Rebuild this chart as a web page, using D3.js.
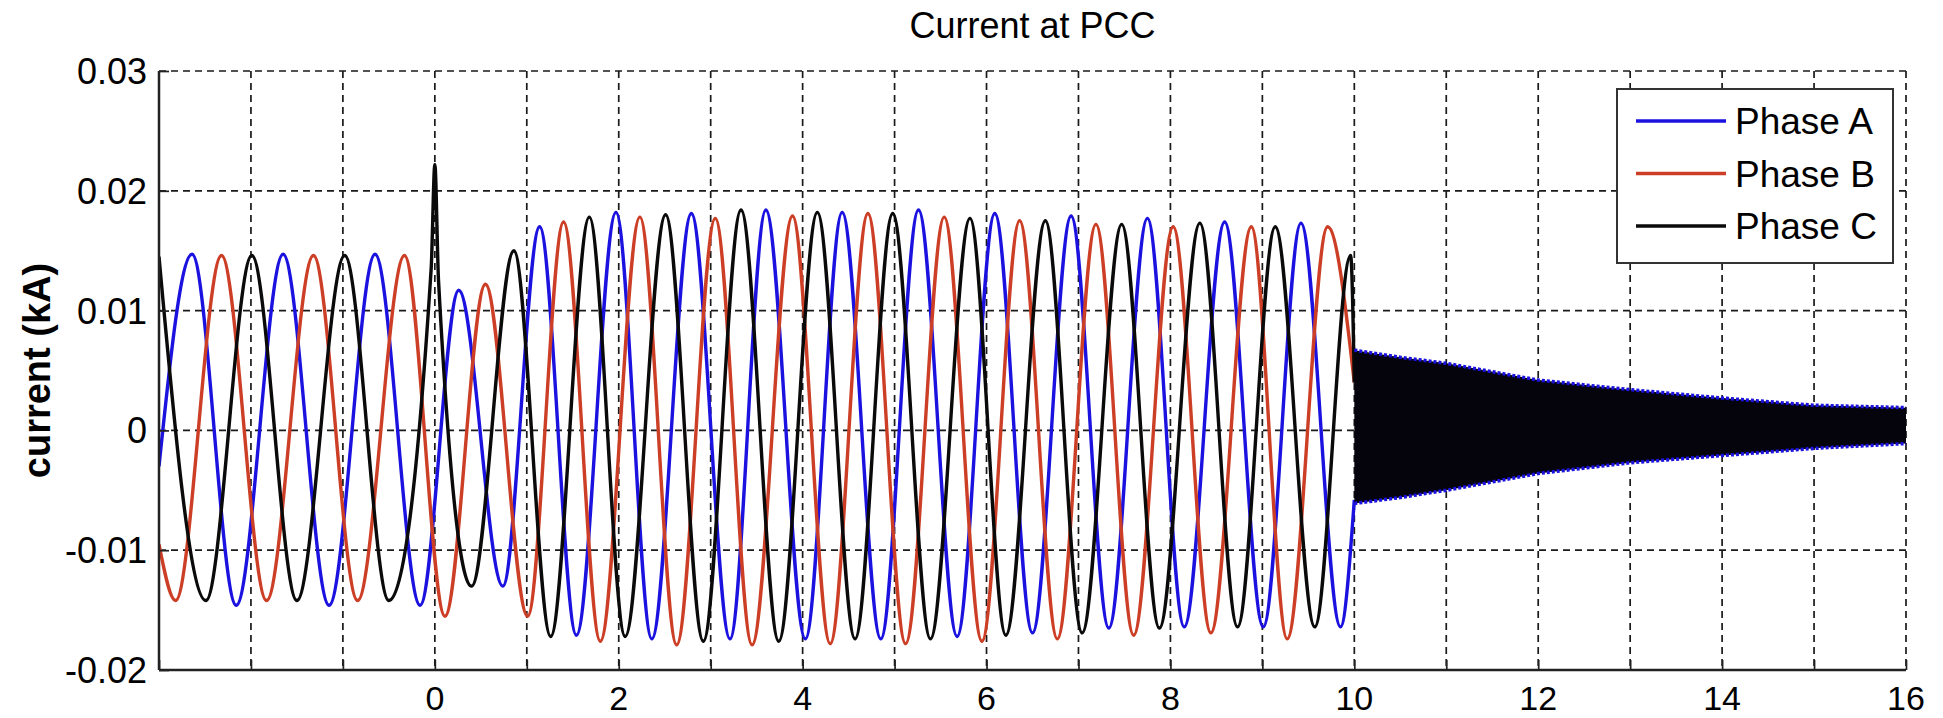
<!DOCTYPE html>
<html>
<head>
<meta charset="utf-8">
<script src="https://cdn.jsdelivr.net/npm/d3@7"></script>
<style>
  body { margin: 0; background: #fff; }
  text { font-family: Arial, "Liberation Sans", sans-serif; fill: #000; }
</style>
</head>
<body>
<div id="chart"></div>
<script>
// extrema: [time, current kA]
let phaseA = [
    [-3, -0.003], [-2.64, 0.0147], [-2.16, -0.0146], [-1.65, 0.0147], [-1.15, -0.0146],
    [-0.65, 0.0147], [-0.16, -0.0146], [0.26, 0.0117], [0.74, -0.013], [1.14, 0.017],
    [1.54, -0.0171], [1.97, 0.0182], [2.36, -0.0174], [2.79, 0.0181], [3.21, -0.0174],
    [3.60, 0.0184], [4.03, -0.0174], [4.43, 0.0182], [4.85, -0.0174], [5.26, 0.0184],
    [5.68, -0.0172], [6.09, 0.0181], [6.50, -0.0169], [6.92, 0.0179], [7.33, -0.0165],
    [7.75, 0.0177], [8.15, -0.0164], [8.59, 0.0174], [9.01, -0.0164], [9.42, 0.0173],
    [9.85, -0.0164], [10.0, -0.0058]
];
let phaseB = [
    [-3, -0.0095], [-2.82, -0.0142], [-2.32, 0.0146], [-1.83, -0.0142], [-1.32, 0.0146],
    [-0.84, -0.0142], [-0.33, 0.0146], [0.11, -0.0155], [0.55, 0.0122], [1.01, -0.0155],
    [1.40, 0.0174], [1.80, -0.0176], [2.23, 0.0178], [2.63, -0.0179], [3.05, 0.0177],
    [3.45, -0.0179], [3.89, 0.0179], [4.30, -0.0178], [4.71, 0.0181], [5.12, -0.0178],
    [5.54, 0.0178], [5.95, -0.0176], [6.36, 0.0175], [6.77, -0.0174], [7.19, 0.0172],
    [7.60, -0.0171], [8.03, 0.0170], [8.44, -0.0169], [8.88, 0.0170], [9.27, -0.0174],
    [9.71, 0.0170], [10.0, 0.004]
];
let phaseC = [
    [-3, 0.0145], [-2.49, -0.0142], [-1.99, 0.0146], [-1.5, -0.0142], [-0.98, 0.0146],
    [-0.5, -0.0142], [-0.04, 0.0135], [0.0, 0.0222], [0.04, 0.0125], [0.40, -0.013],
    [0.86, 0.015], [1.26, -0.0172], [1.68, 0.0178], [2.07, -0.0172], [2.51, 0.0180],
    [2.92, -0.0176], [3.33, 0.0184], [3.74, -0.0176], [4.16, 0.0182], [4.57, -0.0174],
    [4.98, 0.0181], [5.39, -0.0174], [5.82, 0.0177], [6.21, -0.0171], [6.64, 0.0175],
    [7.04, -0.0169], [7.47, 0.0172], [7.88, -0.0165], [8.32, 0.0173], [8.73, -0.0164],
    [9.14, 0.0170], [9.57, -0.0164], [9.96, 0.0146], [10.0, 0.004]
];

// decaying high-frequency band after t = 10 (envelope only)
let tailTime  = [10, 10.5, 11, 12, 13, 14, 15, 16];
let tailUpper = [0.0067, 0.0061, 0.0056, 0.0042, 0.0034, 0.0027, 0.0021, 0.0019];
let tailLower = [-0.0061, -0.0056, -0.0050, -0.0036, -0.0027, -0.0021, -0.0015, -0.0011];

let seriesNames = ["Phase A", "Phase B", "Phase C"];
let xTickLabels = [0, 2, 4, 6, 8, 10, 12, 14, 16];
let yTickValues = [-0.02, -0.01, 0, 0.01, 0.02, 0.03];
let yTickLabels = ["-0.02", "-0.01", "0", "0.01", "0.02", "0.03"];

let colorPhase = ['#1c12e0', '#cc3f26', '#0a0a0a'];

let width = 1943, height = 718;
let margin = {left: 159, right: 37, top: 71, bottom: 48};

let svg = d3.select("#chart")
    .append("svg")
    .attr("width", width)
    .attr("height", height);

let xScale = d3.scaleLinear()
    .domain([-3, 16])
    .range([margin.left, width - margin.right]);

let yScale = d3.scaleLinear()
    .domain([-0.02, 0.03])
    .range([height - margin.bottom, margin.top]);

let x0 = xScale.range()[0], x1 = xScale.range()[1];
let yTop = yScale.range()[1], yBot = yScale.range()[0];

// grid
let grid = svg.append("g")
    .attr("stroke", "#1a1a1a")
    .attr("stroke-width", 1.7)
    .attr("stroke-dasharray", "7,5");

grid.selectAll(".vgrid")
    .data(d3.range(-2, 17))
    .enter().append("line")
    .attr("class", "vgrid")
    .attr("x1", d => xScale(d)).attr("x2", d => xScale(d))
    .attr("y1", yTop).attr("y2", yBot);

grid.selectAll(".hgrid")
    .data(yTickValues.slice(1))
    .enter().append("line")
    .attr("class", "hgrid")
    .attr("x1", x0).attr("x2", x1)
    .attr("y1", d => yScale(d)).attr("y2", d => yScale(d));

// waveforms
svg.append("clipPath").attr("id", "plotClip")
    .append("rect")
    .attr("x", x0).attr("y", yTop)
    .attr("width", x1 - x0).attr("height", yBot - yTop);

let plot = svg.append("g").attr("clip-path", "url(#plotClip)");

let line = d3.line()
    .x(d => xScale(d[0]))
    .y(d => yScale(d[1]))
    .curve(d3.curveMonotoneX);

[phaseA, phaseB, phaseC].forEach((data, i) => {
    plot.append("path")
        .datum(data)
        .attr("fill", "none")
        .attr("stroke", colorPhase[i])
        .attr("stroke-width", 3.4)
        .attr("stroke-linejoin", "round")
        .attr("d", line);
});

let tail = tailTime.map((t, i) => ({t: t, hi: tailUpper[i], lo: tailLower[i]}));

plot.append("path")
    .datum(tail)
    .attr("fill", "#05040c")
    .attr("d", d3.area()
        .x(d => xScale(d.t))
        .y0(d => yScale(d.lo))
        .y1(d => yScale(d.hi)));

// blue fringe on the band edges
["hi", "lo"].forEach(k => {
    plot.append("path")
        .datum(tail)
        .attr("fill", "none")
        .attr("stroke", colorPhase[0])
        .attr("stroke-width", 3.5)
        .attr("stroke-dasharray", "3,2")
        .attr("d", d3.line().x(d => xScale(d.t)).y(d => yScale(d[k])));
});

// axes (left + bottom only, ticks inside)
let xAxis = svg.append("g")
    .attr("transform", "translate(0," + yBot + ")")
    .call(d3.axisTop(xScale)
        .tickValues(d3.range(-3, 17))
        .tickSize(10)
        .tickFormat(""));

let yAxis = svg.append("g")
    .attr("transform", "translate(" + x0 + ",0)")
    .call(d3.axisRight(yScale)
        .tickValues(yTickValues)
        .tickSize(10)
        .tickFormat(""));

[xAxis, yAxis].forEach(ax => {
    ax.select(".domain").attr("stroke", "#222").attr("stroke-width", 2.5);
    ax.selectAll(".tick line").attr("stroke", "#222").attr("stroke-width", 1.7);
});
xAxis.select(".domain").attr("d", "M" + x0 + ",0H" + x1);
yAxis.select(".domain").attr("d", "M0," + yTop + "V" + yBot);

svg.selectAll(".xlabel")
    .data(xTickLabels)
    .enter().append("text")
    .attr("class", "xlabel")
    .attr("x", d => xScale(d))
    .attr("y", yBot + 40)
    .attr("text-anchor", "middle")
    .style("font-size", "34px")
    .text(d => d);

svg.selectAll(".ylabel")
    .data(yTickValues)
    .enter().append("text")
    .attr("class", "ylabel")
    .attr("x", x0 - 12)
    .attr("y", d => yScale(d))
    .attr("dy", "0.36em")
    .attr("text-anchor", "end")
    .style("font-size", "36px")
    .text((d, i) => yTickLabels[i]);

// title and axis label
svg.append("text")
    .attr("x", (x0 + x1) / 2)
    .attr("y", 38)
    .attr("text-anchor", "middle")
    .style("font-size", "36px")
    .text("Current at PCC");

svg.append("text")
    .attr("transform", "translate(50," + ((yTop + yBot) / 2) + ") rotate(-90)")
    .attr("text-anchor", "middle")
    .style("font-size", "38px")
    .style("font-weight", "bold")
    .text("current (kA)");

// legend
let legend = svg.append("g")
    .attr("transform", "translate(1617,89)");

legend.append("rect")
    .attr("width", 276).attr("height", 174)
    .attr("fill", "#fff")
    .attr("stroke", "#333")
    .attr("stroke-width", 2);

seriesNames.forEach((name, i) => {
    let ly = 32 + i * 52.5;
    legend.append("line")
        .attr("x1", 19).attr("x2", 109)
        .attr("y1", ly).attr("y2", ly)
        .attr("stroke", colorPhase[i])
        .attr("stroke-width", 3.5);
    legend.append("text")
        .attr("x", 118).attr("y", ly)
        .attr("dy", "0.36em")
        .style("font-size", "37px")
        .text(name);
});
</script>
</body>
</html>
